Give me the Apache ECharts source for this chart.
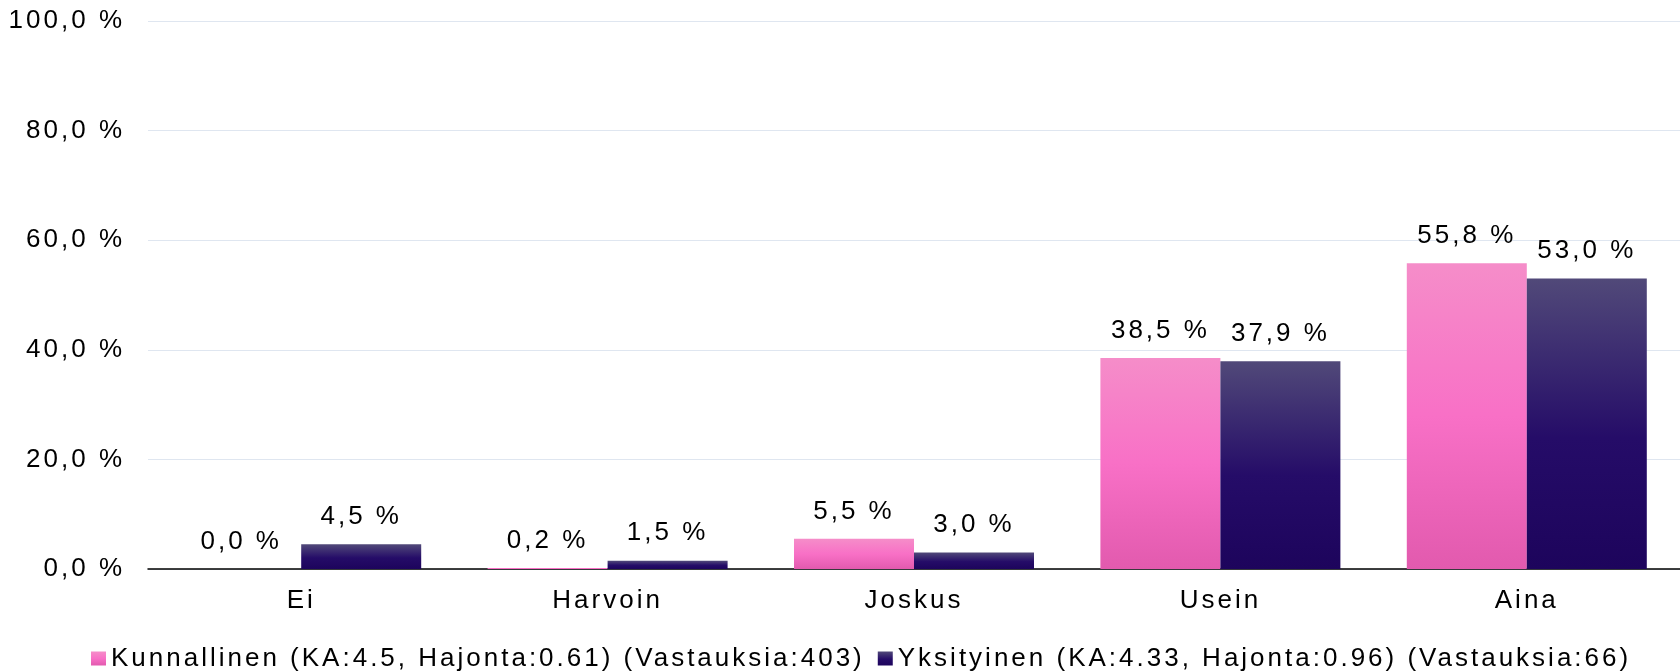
<!DOCTYPE html>
<html>
<head>
<meta charset="utf-8">
<script src="https://cdn.jsdelivr.net/npm/echarts@6/dist/echarts.min.js"></script>
<style>
  html, body { margin: 0; padding: 0; background: #fff; }
  #chart { width: 1680px; height: 672px; }
</style>
</head>
<body>
<div id="chart"></div>
<script>
const categories = ['Ei', 'Harvoin', 'Joskus', 'Usein', 'Aina']
const kunnallinen = [0.0, 0.2, 5.5, 38.5, 55.8]
const yksityinen = [4.5, 1.5, 3.0, 37.9, 53.0]
const seriesNames = [
  'Kunnallinen (KA:4.5, Hajonta:0.61) (Vastauksia:403)',
  'Yksityinen (KA:4.33, Hajonta:0.96) (Vastauksia:66)'
]

// ECharts has no letterSpacing option, the reference text is widely spaced
const LETTER_SPACING = '3px'
const proto = CanvasRenderingContext2D.prototype
for (const fn of ['fillText', 'strokeText', 'measureText']) {
  const orig = proto[fn]
  proto[fn] = function (...args) {
    this.letterSpacing = LETTER_SPACING
    return orig.apply(this, args)
  }
}

const FONT = '"Liberation Sans", Arial, sans-serif'
const FONT_SIZE = 26
const TEXT = '#000000'

function pct(value) {
  return value.toFixed(1).replace('.', ',') + ' %'
}

function gradient(stops) {
  return new echarts.graphic.LinearGradient(0, 0, 0, 1,
    stops.map(([offset, color]) => ({ offset, color })))
}

const pink = gradient([[0, '#f58dc9'], [0.5, '#f870c6'], [1, '#e25aae']])
const navy = gradient([[0, '#514979'], [0.55, '#250c68'], [1, '#1d045c']])

const label = {
  show: true,
  position: 'top',
  distance: 13,
  fontFamily: FONT,
  fontSize: FONT_SIZE,
  color: TEXT,
  formatter: (p) => pct(p.value)
}

const chart = echarts.init(document.getElementById('chart'))
chart.setOption({
  animation: false,
  textStyle: { fontFamily: FONT },
  grid: { left: 148, right: -9, top: 21, bottom: 103, containLabel: false },
  legend: {
    left: 86,
    top: 639,
    itemWidth: 15,
    itemHeight: 14,
    itemGap: 13,
    icon: 'rect',
    textStyle: { fontFamily: FONT, fontSize: FONT_SIZE, color: TEXT },
    data: seriesNames
  },
  xAxis: {
    type: 'category',
    data: categories,
    axisTick: { show: false },
    axisLine: { lineStyle: { color: '#000000', width: 1.5 } },
    axisLabel: { fontFamily: FONT, fontSize: FONT_SIZE, color: TEXT, margin: 17 }
  },
  yAxis: {
    type: 'value',
    min: 0,
    max: 100,
    interval: 20,
    axisLine: { show: false },
    axisTick: { show: false },
    splitLine: { lineStyle: { color: '#dfe6f0', width: 1 } },
    axisLabel: {
      fontFamily: FONT,
      fontSize: FONT_SIZE,
      color: TEXT,
      margin: 23,
      formatter: (v) => pct(v)
    }
  },
  series: [
    {
      name: seriesNames[0],
      type: 'bar',
      data: kunnallinen,
      barWidth: 120,
      barGap: '0%',
      itemStyle: { color: pink },
      label
    },
    {
      name: seriesNames[1],
      type: 'bar',
      data: yksityinen,
      barWidth: 120,
      barGap: '0%',
      itemStyle: { color: navy },
      label
    }
  ]
})
</script>
</body>
</html>
